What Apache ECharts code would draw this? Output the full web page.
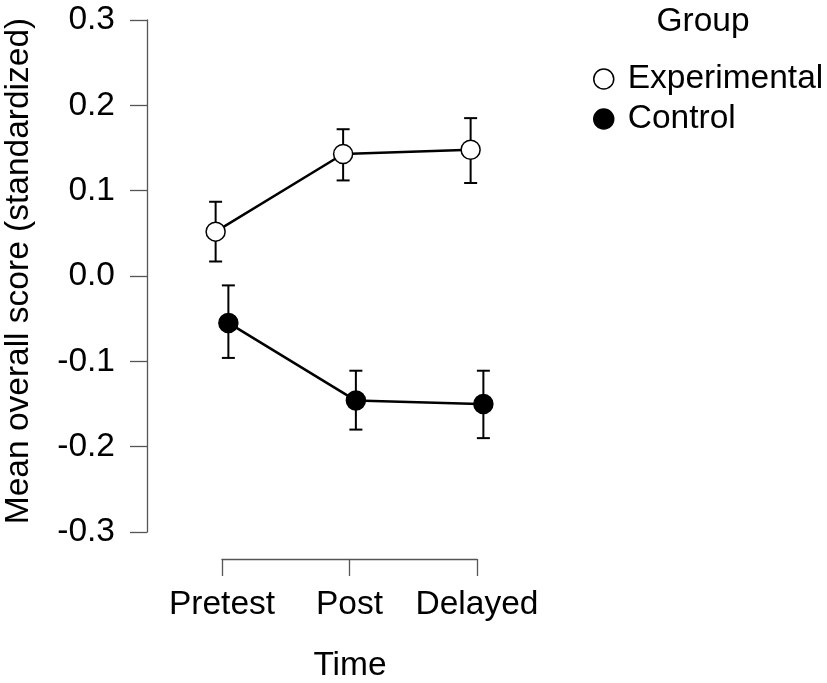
<!DOCTYPE html>
<html>
<head>
<meta charset="utf-8">
<script src="https://cdn.jsdelivr.net/npm/echarts@6/dist/echarts.min.js"></script>
<style>
html,body{margin:0;padding:0;background:#fff;}
#chart{width:827px;height:683px;}
</style>
</head>
<body>
<div id="chart"></div>
<script>
// ---- data ----
const categories = ['Pretest', 'Post', 'Delayed'];
const groups = ['Experimental', 'Control'];
const experimentalMean  = [0.052, 0.143, 0.148];
const experimentalLower = [0.017, 0.112, 0.109];
const experimentalUpper = [0.087, 0.172, 0.185];
const controlMean  = [-0.055, -0.146, -0.150];
const controlLower = [-0.096, -0.180, -0.190];
const controlUpper = [-0.011, -0.111, -0.111];
const yTicks = [-0.3, -0.2, -0.1, 0.0, 0.1, 0.2, 0.3];

// ---- styling / layout ----
const FONT = 'Liberation Sans, Arial, sans-serif';
const FS = 33.5;
const AXIS_COLOR = '#555';
const DODGE = 0.05; // horizontal dodge in category units

const chart = echarts.init(document.getElementById('chart'), null, {renderer: 'canvas'});

function pts(means, offset) {
  return means.map((v, i) => [i + offset, v]);
}
function errs(lo, hi, offset) {
  return lo.map((l, i) => [i + offset, l, hi[i]]);
}

function errorBar(params, api) {
  const x = api.value(0);
  const p1 = api.coord([x, api.value(1)]);
  const p2 = api.coord([x, api.value(2)]);
  const hw = 6.5;
  const st = {stroke: '#000', lineWidth: 2};
  return {
    type: 'group',
    children: [
      {type: 'line', shape: {x1: p1[0], y1: p1[1], x2: p2[0], y2: p2[1]}, style: st},
      {type: 'line', shape: {x1: p1[0] - hw, y1: p1[1], x2: p1[0] + hw, y2: p1[1]}, style: st},
      {type: 'line', shape: {x1: p2[0] - hw, y1: p2[1], x2: p2[0] + hw, y2: p2[1]}, style: st}
    ]
  };
}

const option = {
  backgroundColor: '#fff',
  animation: false,
  grid: {left: 222, right: 350, top: 20, bottom: 151, containLabel: false},
  xAxis: [
    {
      type: 'category',
      data: categories,
      boundaryGap: false,
      offset: 27,
      axisLine: {show: true, onZero: false, lineStyle: {color: AXIS_COLOR, width: 1.3}},
      axisTick: {show: true, length: 17, inside: false, interval: 0, lineStyle: {color: AXIS_COLOR, width: 1.3}},
      axisLabel: {color: '#000', fontFamily: FONT, fontSize: FS, margin: 29, interval: 0},
      splitLine: {show: false}
    },
    {
      type: 'value', min: 0, max: 2, show: false
    }
  ],
  yAxis: {
    type: 'value',
    min: yTicks[0], max: yTicks[yTicks.length - 1], interval: 0.1,
    offset: 75,
    axisLine: {show: true, onZero: false, lineStyle: {color: AXIS_COLOR, width: 1.3}},
    axisTick: {show: true, length: 17, inside: false, lineStyle: {color: AXIS_COLOR, width: 1.3}},
    axisLabel: {color: '#000', fontFamily: FONT, fontSize: FS, margin: 32,
      formatter: v => Number(v).toFixed(1)},
    splitLine: {show: false}
  },
  legend: {
    orient: 'vertical',
    left: 588, top: 57,
    icon: 'circle',
    itemWidth: 20, itemHeight: 20,
    itemGap: 6,
    textStyle: {color: '#000', fontFamily: FONT, fontSize: FS, padding: [0, 0, 0, 9]},
    data: [
      {name: groups[0], itemStyle: {color: '#fff', borderColor: '#000', borderWidth: 1.5}},
      {name: groups[1], itemStyle: {color: '#000', borderColor: '#000', borderWidth: 1.5}}
    ]
  },
  graphic: [
    {type: 'text', x: 703, y: 22, style: {text: 'Group', fontFamily: FONT, fontSize: FS, fill: '#000', textAlign: 'center', textVerticalAlign: 'middle'}},
    {type: 'text', x: 350, y: 666, style: {text: 'Time', fontFamily: FONT, fontSize: FS, fill: '#000', textAlign: 'center', textVerticalAlign: 'middle'}},
    {type: 'text', x: 19, y: 271, rotation: Math.PI / 2, style: {text: 'Mean overall score (standardized)', fontFamily: FONT, fontSize: FS, fill: '#000', textAlign: 'center', textVerticalAlign: 'middle'}}
  ],
  series: [
    {
      type: 'custom', name: 'expErr', xAxisIndex: 1, z: 1, clip: false,
      renderItem: errorBar, data: errs(experimentalLower, experimentalUpper, -DODGE)
    },
    {
      type: 'custom', name: 'ctrlErr', xAxisIndex: 1, z: 1, clip: false,
      renderItem: errorBar, data: errs(controlLower, controlUpper, DODGE)
    },
    {
      type: 'line', name: groups[0], xAxisIndex: 1, z: 3, clip: false,
      data: pts(experimentalMean, -DODGE),
      symbol: 'circle', symbolSize: 19,
      lineStyle: {color: '#000', width: 2.5},
      itemStyle: {color: '#fff', borderColor: '#000', borderWidth: 1.5}
    },
    {
      type: 'line', name: groups[1], xAxisIndex: 1, z: 3, clip: false,
      data: pts(controlMean, DODGE),
      symbol: 'circle', symbolSize: 19,
      lineStyle: {color: '#000', width: 2.5},
      itemStyle: {color: '#000', borderColor: '#000', borderWidth: 1.5}
    }
  ]
};
chart.setOption(option);
</script>
</body>
</html>
